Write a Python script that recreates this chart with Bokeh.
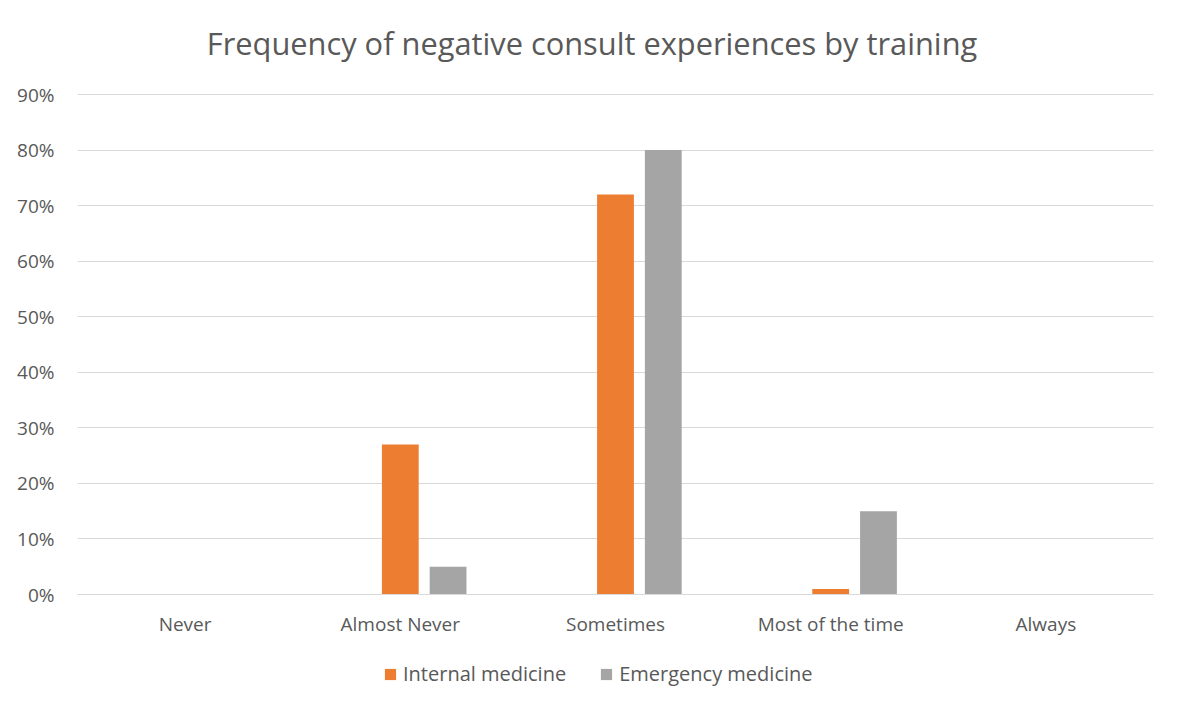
from bokeh.plotting import figure
from bokeh.layouts import column
from bokeh.models import (ColumnDataSource, FactorRange, Range1d, FixedTicker, NumeralTickFormatter,
                          Legend, LegendItem, Label)
from bokeh.transform import dodge
from bokeh.embed import file_html
from bokeh.resources import INLINE

categories = ["Never", "Almost Never", "Sometimes", "Most of the time", "Always"]
internal_medicine = [0.0, 0.27, 0.72, 0.01, 0.0]
emergency_medicine = [0.0, 0.05, 0.80, 0.15, 0.0]
y_ticks = [0.0, 0.1, 0.2, 0.3, 0.4, 0.5, 0.6, 0.7, 0.8, 0.9]
series_names = ["Internal medicine", "Emergency medicine"]
colors = ["#ED7D31", "#A5A5A5"]
title_text = "Frequency of negative consult experiences by training"

FONT = "Open Sans"
TXT = "#595959"

# layout (pixels): frame top at 14, 0% line at 594, 90% line at 94
FRAME_TOP, ZERO_Y, TOP_TICK_Y = 14, 594, 94
px_per_unit = (ZERO_Y - TOP_TICK_Y) / 0.9
y_end = (ZERO_Y - FRAME_TOP) / px_per_unit

src = ColumnDataSource(dict(cat=categories, im=internal_medicine, em=emergency_medicine))

p = figure(width=1165, height=651, output_backend="svg", toolbar_location=None,
           x_range=FactorRange(*categories, range_padding=0), y_range=Range1d(0, y_end),
           min_border_left=77, min_border_right=12, min_border_top=FRAME_TOP, min_border_bottom=57)

r1 = p.vbar(x=dodge("cat", 0.0, range=p.x_range), top="im", width=0.171, source=src,
            color=colors[0], line_color=None)
r2 = p.vbar(x=dodge("cat", 0.222, range=p.x_range), top="em", width=0.171, source=src,
            color=colors[1], line_color=None)

# chart title, centred at x=591 px
p.add_layout(Label(x=(591.5 - 77) / 215.2, y=(ZERO_Y - 42) / px_per_unit, text=title_text,
                   text_align="center", text_baseline="alphabetic",
                   text_font=FONT, text_font_size="30.8px", text_color=TXT))

p.outline_line_color = None
p.xgrid.grid_line_color = None
p.ygrid.grid_line_color = "#D9D9D9"
p.ygrid.grid_line_width = 1

p.yaxis.ticker = FixedTicker(ticks=y_ticks)
p.yaxis.formatter = NumeralTickFormatter(format="0%")
p.yaxis.axis_line_color = None
p.yaxis.major_tick_line_color = None
p.yaxis.minor_tick_line_color = None
p.yaxis.major_label_standoff = 17

p.xaxis.axis_line_color = "#D9D9D9"
p.xaxis.major_tick_line_color = None
p.xaxis.minor_tick_line_color = None
p.xaxis.major_label_standoff = 10

for ax in (p.xaxis[0], p.yaxis[0]):
    ax.major_label_text_font = FONT
    ax.major_label_text_font_size = "19px"
    ax.major_label_text_color = TXT

# legend strip below the chart (its frame is aligned with the chart's frame)
lf = figure(width=1165, height=40, output_backend="svg", toolbar_location=None,
            x_range=Range1d(0, 1), y_range=Range1d(0, 1),
            x_axis_location=None, y_axis_location=None,
            min_border_left=0, min_border_right=0, min_border_top=0, min_border_bottom=0)
lf.outline_line_color = None
lf.xgrid.grid_line_color = None
lf.ygrid.grid_line_color = None
# off-screen proxies so the legend can draw its swatches
d1 = lf.vbar(x=[5], top=[5], bottom=[4], width=0.1, color=colors[0], line_color=None)
d2 = lf.vbar(x=[6], top=[5], bottom=[4], width=0.1, color=colors[1], line_color=None)

legend = Legend(items=[LegendItem(label=series_names[0], renderers=[d1]),
                       LegendItem(label=series_names[1], renderers=[d2])],
                orientation="horizontal", location=(306, 4),
                label_text_font=FONT, label_text_font_size="20px", label_text_color=TXT,
                glyph_width=14, glyph_height=14, spacing=33, label_standoff=6,
                border_line_color=None, background_fill_alpha=0, padding=0, margin=0)
lf.add_layout(legend, "center")

layout = column(p, lf, spacing=0)
open("out.html", "w").write(file_html(layout, INLINE))
